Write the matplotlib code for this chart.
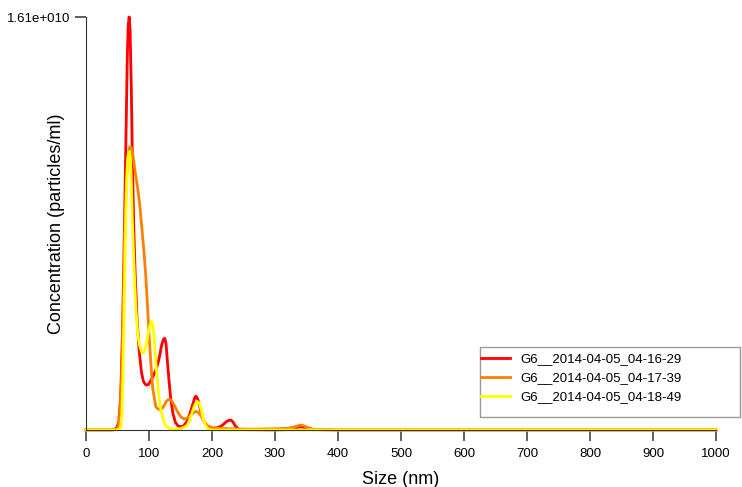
import matplotlib
matplotlib.use("Agg")
import matplotlib.pyplot as plt
from matplotlib.patches import Rectangle

plt.rcParams['font.family'] = ['Liberation Sans', 'DejaVu Sans']

ymax = 1.61e10

# size (nm) and concentration as fraction of top value
red_x = [0, 40, 45, 49, 52, 55, 57.9, 60, 62, 64, 65.5, 67, 68.5, 70, 72, 73.8, 76, 78, 81, 84.3, 88, 91, 95, 99,
         103, 107, 110.8, 114, 117, 120, 123, 125, 127, 129, 132, 134.7, 138, 142, 146, 150.6, 155, 160, 165, 170,
         172.5, 174.4, 177, 180, 184, 188, 193, 198, 203, 210, 216, 222, 226, 230, 233, 237, 243, 300, 320,
         330, 336, 341, 346, 352, 360, 400, 1000]
red_y = [0, 0, 0.001, 0.006, 0.02, 0.08, 0.235, 0.4, 0.58, 0.76, 0.9, 0.98, 1.0, 0.97, 0.82, 0.637, 0.48, 0.38,
         0.27, 0.194, 0.14, 0.118, 0.109, 0.11, 0.12, 0.132, 0.145, 0.16, 0.18, 0.205, 0.22, 0.222, 0.21, 0.17,
         0.115, 0.073, 0.04, 0.018, 0.01, 0.008, 0.01, 0.02, 0.04, 0.065, 0.078, 0.082, 0.076, 0.06, 0.035, 0.018,
         0.008, 0.004, 0.004, 0.006, 0.011, 0.019, 0.023, 0.024, 0.02, 0.01, 0.001, 0.0, 0.001, 0.003, 0.006,
         0.008, 0.006, 0.003, 0.001, 0.0, 0.0]

orange_x = [0, 42, 47, 50, 53, 56, 58.5, 61.5, 64, 66.5, 69, 71, 73, 75, 78, 81.7, 85, 88, 92.2, 95, 98, 100,
            103, 106, 110.8, 115, 118, 121.4, 125, 128, 131, 134.7, 138, 142, 146, 150.6, 155, 160, 165, 170,
            174.4, 178, 182, 187, 193, 200, 210, 230, 260, 300, 320, 330, 336, 341, 346, 352, 360, 400, 1000]
orange_y = [0, 0, 0.001, 0.004, 0.025, 0.1, 0.25, 0.476, 0.6, 0.66, 0.684, 0.686, 0.68, 0.66, 0.625, 0.589, 0.55,
            0.5, 0.428, 0.37, 0.29, 0.235, 0.16, 0.1, 0.056, 0.05, 0.05, 0.053, 0.062, 0.07, 0.074, 0.073, 0.066,
            0.054, 0.042, 0.032, 0.027, 0.028, 0.034, 0.041, 0.045, 0.043, 0.035, 0.022, 0.01, 0.006, 0.004, 0.003,
            0.002, 0.003, 0.004, 0.007, 0.01, 0.012, 0.01, 0.006, 0.002, 0.0, 0.0]

yellow_x = [0, 48, 52, 55, 57, 58.5, 60, 61.5, 63, 64.5, 66, 67.5, 69, 70.5, 72, 73.5, 75.3, 77, 79, 82, 85, 88,
            90.7, 93, 96, 99, 101, 103, 104.5, 106, 108, 111, 113.5, 117, 120, 124, 128, 134, 140, 150, 160, 165,
            169, 172, 175, 177, 180, 183, 186, 190, 194, 200, 1000]
yellow_y = [0, 0, 0.001, 0.006, 0.04, 0.12, 0.25, 0.38, 0.5, 0.6, 0.655, 0.672, 0.674, 0.66, 0.6, 0.51, 0.436,
            0.37, 0.3, 0.235, 0.205, 0.19, 0.186, 0.19, 0.21, 0.235, 0.25, 0.26, 0.262, 0.255, 0.225, 0.16, 0.114,
            0.065, 0.04, 0.018, 0.008, 0.003, 0.002, 0.003, 0.01, 0.025, 0.045, 0.058, 0.066, 0.069, 0.064, 0.048,
            0.028, 0.01, 0.002, 0.0, 0.0]

labels = ["G6__2014-04-05_04-16-29", "G6__2014-04-05_04-17-39", "G6__2014-04-05_04-18-49"]
colors = ["#ff0000", "#ff8000", "#ffff00"]

W, H = 742, 487
fig = plt.figure(figsize=(W / 100, H / 100), dpi=100)
ax = fig.add_axes([86 / W, 1 - 430 / H, 630 / W, 413 / H])

series = [(red_x, red_y), (orange_x, orange_y), (yellow_x, yellow_y)]
for (xs, ys), c, lab in zip(series, colors, labels):
    ax.plot(xs, [v * ymax for v in ys], color=c, lw=2, label=lab, clip_on=False, solid_joinstyle='round')

ax.set_xlim(0, 1000)
ax.set_ylim(0, ymax)
ax.set_xticks(range(0, 1001, 100))
ax.set_yticks([ymax])
ax.set_yticklabels(["1.61e+010"])
ax.tick_params(axis='both', labelsize=9.5, color='#444444', length=8, width=1.2)
ax.tick_params(axis='x', pad=5)
for s in ['top', 'right']:
    ax.spines[s].set_visible(False)
for s in ['left', 'bottom']:
    ax.spines[s].set_color('#333333')

ax.set_xlabel("Size (nm)", fontsize=13, labelpad=8)
ax.set_ylabel("Concentration (particles/ml)", fontsize=13)
ax.yaxis.set_label_coords(-0.034, 0.5)

# legend frame drawn by hand (it is wider than the text)
fig.patches.append(Rectangle((480 / W, 1 - 417 / H), 260 / W, 70 / H, transform=fig.transFigure,
                             facecolor='white', edgecolor='#999999', lw=1.0, zorder=5))
leg = fig.legend(loc='upper left', bbox_to_anchor=(480 / W, 1 - 352 / H), fontsize=9.5, frameon=False,
                 handlelength=2.2, borderaxespad=0, borderpad=0.1, labelspacing=0.5, handletextpad=0.75)
leg.set_zorder(6)

plt.savefig('out.png')
